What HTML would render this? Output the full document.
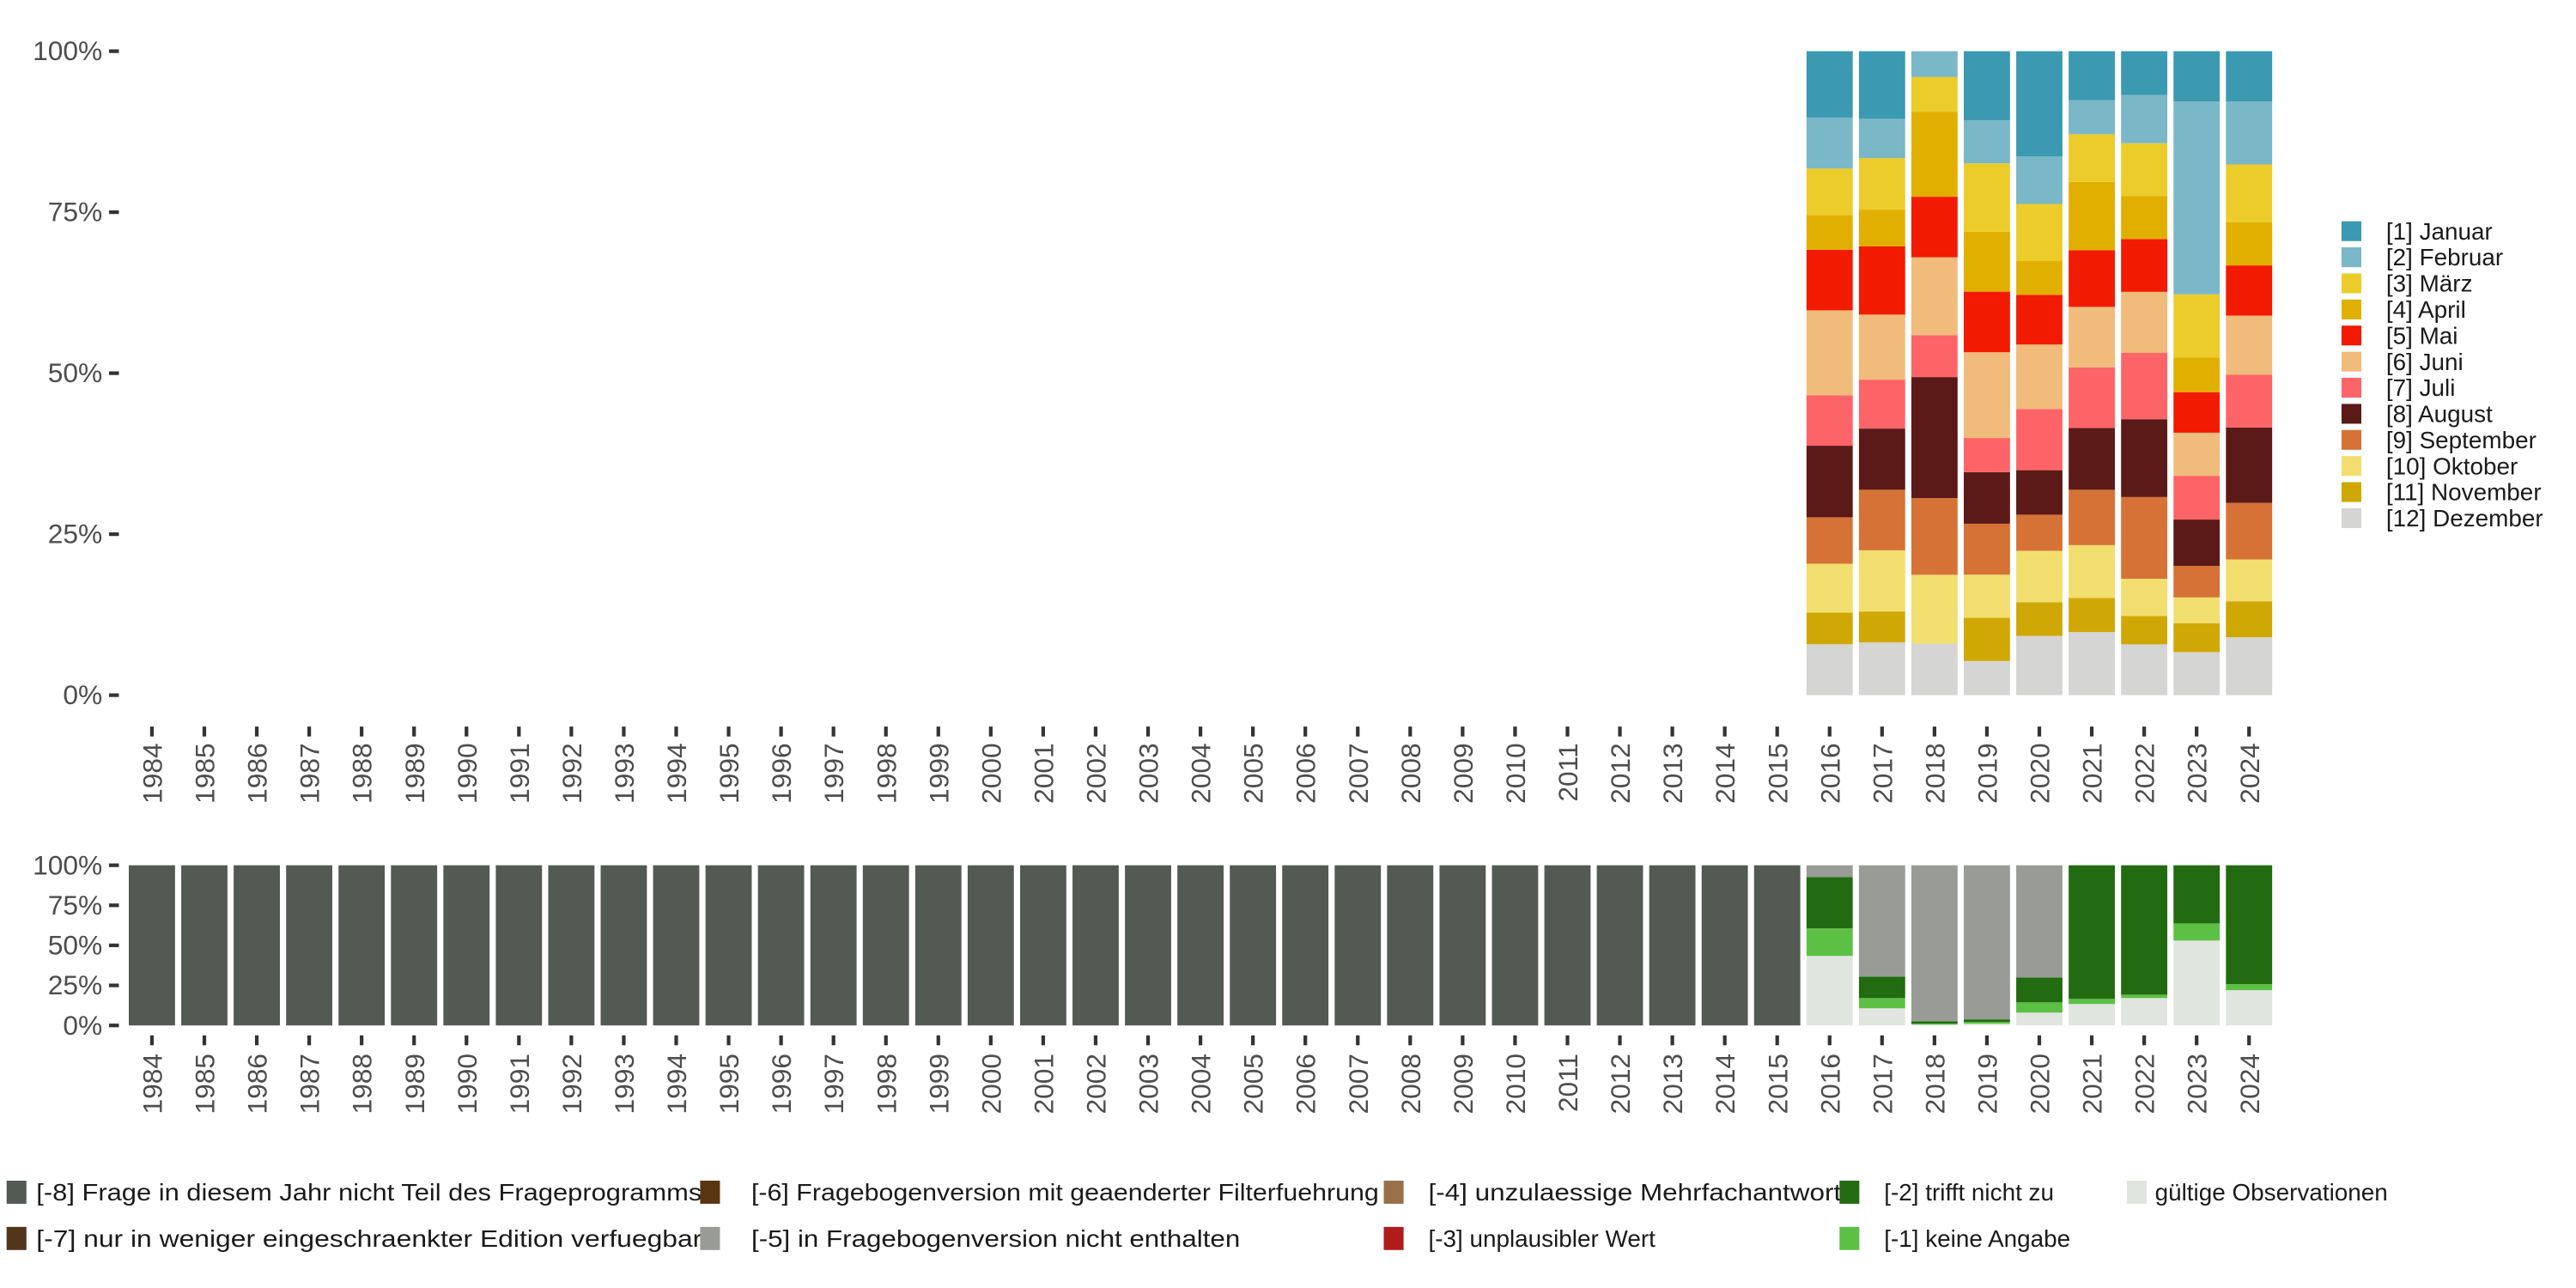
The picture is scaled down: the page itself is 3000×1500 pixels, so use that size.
<!DOCTYPE html>
<html><head><meta charset="utf-8"><style>
html,body{margin:0;padding:0;background:#fff;}
svg{display:block;font-family:"Liberation Sans",sans-serif;}
</style></head><body>
<svg id="chart" xmlns="http://www.w3.org/2000/svg" width="3000" height="1500" viewBox="0 0 1560 780">
<g id="topPanel"></g>
<g id="botPanel"></g>
<g id="legR"></g>
<g id="legB"></g>
</svg>
<script>
const years = [];
for (let y = 1984; y <= 2024; y++) years.push(String(y));
const monthNames = ["[1] Januar","[2] Februar","[3] März","[4] April","[5] Mai","[6] Juni","[7] Juli","[8] August","[9] September","[10] Oktober","[11] November","[12] Dezember"];
const monthColors = ["#3B99B1","#7AB7C7","#EBCC2A","#E1AF00","#F21A00","#F1BB7B","#FD6467","#5B1A18","#D67236","#F2DE6E","#D0A806","#D5D5D3"];
const monthYears = ["2016","2017","2018","2019","2020","2021","2022","2023","2024"];
const m2016 = [10.3,7.9,7.2,5.4,9.4,13.2,7.8,11.1,7.2,7.6,4.9,7.9];
const m2017 = [10.5,6.1,8.0,5.7,10.6,10.1,7.6,9.5,9.4,9.5,4.8,8.2];
const m2018 = [0,4.0,5.4,13.2,9.4,12.1,6.5,18.8,11.9,10.7,0,8.0];
const m2019 = [10.7,6.7,10.6,9.3,9.4,13.3,5.3,8.0,7.9,6.7,6.7,5.3];
const m2020 = [16.3,7.4,8.8,5.3,7.7,10.0,9.5,6.9,5.6,8.0,5.2,9.2];
const m2021 = [7.6,5.3,7.4,10.6,8.8,9.4,9.4,9.6,8.6,8.2,5.3,9.8];
const m2022 = [6.8,7.5,8.2,6.7,8.2,9.5,10.3,12.1,12.7,5.8,4.4,7.9];
const m2023 = [7.8,30.0,9.8,5.4,6.3,6.7,6.8,7.2,4.9,4.0,4.5,6.7];
const m2024 = [7.8,9.8,9.0,6.7,7.8,9.2,8.2,11.7,8.8,6.5,5.6,9.0];
const monthData = [m2016,m2017,m2018,m2019,m2020,m2021,m2022,m2023,m2024];

const catNames = ["gültige Observationen","[-1] keine Angabe","[-2] trifft nicht zu","[-3] unplausibler Wert","[-4] unzulaessige Mehrfachantwort","[-5] in Fragebogenversion nicht enthalten","[-6] Fragebogenversion mit geaenderter Filterfuehrung","[-7] nur in weniger eingeschraenkter Edition verfuegbar","[-8] Frage in diesem Jahr nicht Teil des Frageprogramms"];
const catColors = ["#E1E5E0","#5CC045","#226B11","#B01C1C","#9A7048","#999B96","#5B3510","#52361B","#535A53"];
const c2016 = [43.4,17.1,32.1,0,0,7.3,0,0,0];
const c2017 = [10.7,6.4,13.4,0,0,69.5,0,0,0];
const c2018 = [0.5,0.7,1.4,0,0,97.3,0,0,0];
const c2019 = [1.1,1.1,1.6,0,0,96.3,0,0,0];
const c2020 = [8.0,6.4,15.5,0,0,70.0,0,0,0];
const c2021 = [13.4,3.2,83.4,0,0,0,0,0,0];
const c2022 = [17.1,2.1,80.7,0,0,0,0,0,0];
const c2023 = [53.0,10.7,36.3,0,0,0,0,0,0];
const c2024 = [22.0,3.8,74.3,0,0,0,0,0,0];
const cPre = [0,0,0,0,0,0,0,0,100];
const yTicks = ["0%","25%","50%","75%","100%"];

const NS = "http://www.w3.org/2000/svg";
function mk(parent, tag, attrs, text) {
  const e = document.createElementNS(NS, tag);
  for (const k in attrs) e.setAttribute(k, attrs[k]);
  if (text !== undefined) e.textContent = text;
  parent.appendChild(e);
  return e;
}
const xScale = i => 92 + i * 31.75;
const barW = 28;
function yTop(v) { return 421 - v / 100 * 390; }
function yBot(v) { return 621 - v / 100 * 97; }

function axes(g, ys, tickBottomY, labelY) {
  yTicks.forEach((t, i) => {
    const y = ys(i * 25);
    const tx = mk(g, "text", {x: 62, y: y + 5.5, "text-anchor": "end", "font-size": 16.5, fill: "#4d4d4d"}, t);
    
    
    mk(g, "line", {x1: 66, x2: 72, y1: y, y2: y, stroke: "#333", "stroke-width": 2.2});
  });
  years.forEach((yr, i) => {
    const cx = xScale(i);
    mk(g, "line", {x1: cx, x2: cx, y1: tickBottomY, y2: tickBottomY + 6, stroke: "#333", "stroke-width": 2.2});
    const tx = mk(g, "text", {x: 0, y: 0, transform: `translate(${cx + 6},${labelY}) rotate(-90)`, "text-anchor": "end", "font-size": 16.5, fill: "#4d4d4d"}, yr);
    
    
  });
}

const topG = document.getElementById("topPanel");
axes(topG, yTop, 440, 450);
monthYears.forEach((yr, j) => {
  const vals = monthData[j];
  const tot = vals.reduce((a, b) => a + b, 0);
  const i = years.indexOf(yr);
  let cum = 0;
  for (let k = vals.length - 1; k >= 0; k--) {
    const v = vals[k] / tot * 100;
    if (v <= 0) continue;
    const y1 = yTop(cum + v), y0 = yTop(cum);
    const r = mk(topG, "rect", {x: xScale(i) - barW / 2, y: y1, width: barW, height: y0 - y1, fill: monthColors[k]});
    
    
    cum += v;
  }
});

const botG = document.getElementById("botPanel");
axes(botG, yBot, 627, 638);
const catByYear = {"2016": c2016, "2017": c2017, "2018": c2018, "2019": c2019, "2020": c2020, "2021": c2021, "2022": c2022, "2023": c2023, "2024": c2024};
years.forEach((yr, i) => {
  const vals = catByYear[yr] || cPre;
  const tot = vals.reduce((a, b) => a + b, 0);
  let cum = 0;
  vals.forEach((raw, k) => {
    const v = raw / tot * 100;
    if (v <= 0) return;
    const y1 = yBot(cum + v), y0 = yBot(cum);
    const r = mk(botG, "rect", {x: xScale(i) - barW / 2, y: y1, width: barW, height: y0 - y1, fill: catColors[k]});
    
    
    cum += v;
  });
});

const legR = document.getElementById("legR");
monthNames.forEach((n, k) => {
  const y = 140 + k * 15.8;
  const r = mk(legR, "rect", {x: 1418, y: y - 6, width: 12, height: 12, fill: monthColors[k]});
  
  
  const t = mk(legR, "text", {x: 1445, y: y + 5, "font-size": 14.5, fill: "#1a1a1a"}, n);
  
  
});

const legB = document.getElementById("legB");
const legItems = [
  [8, 4, 22, 722, 403], [7, 4, 22, 750, 403],
  [6, 424, 455, 722, 380], [5, 424, 455, 750, 296],
  [4, 838, 865, 722, 250], [3, 838, 865, 750, 0],
  [2, 1114, 1141, 722, 0], [1, 1114, 1141, 750, 0],
  [0, 1288, 1305, 722, 0]
];
legItems.forEach(([k, sx, tx, y, tl]) => {
  const r = mk(legB, "rect", {x: sx, y: y - 7, width: 12, height: 14, fill: catColors[k]});
  
  
  const attrs = {x: tx, y: y + 5, "font-size": 14.5, fill: "#1a1a1a"};
  if (tl) { attrs.textLength = tl; attrs.lengthAdjust = "spacingAndGlyphs"; }
  const t = mk(legB, "text", attrs, catNames[k]);
  
  
});
</script>
</body></html>
